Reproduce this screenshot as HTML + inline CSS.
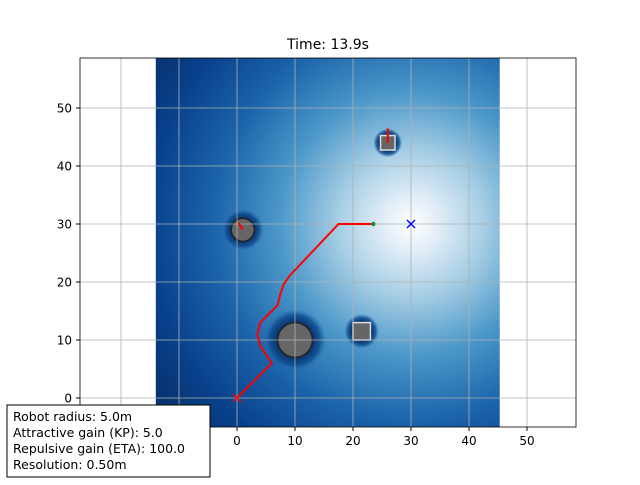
<!DOCTYPE html>
<html><head><meta charset="utf-8"><style>
body{margin:0;background:#fff;width:640px;height:480px;overflow:hidden;font-family:"Liberation Sans","DejaVu Sans",sans-serif}
svg text{font-family:"DejaVu Sans","Liberation Sans",sans-serif}
</style></head><body>
<svg id="c" width="640" height="480" xmlns="http://www.w3.org/2000/svg">
<defs>
<radialGradient id="field" gradientUnits="userSpaceOnUse" cx="411" cy="224" r="330">
<stop offset="0" stop-color="#ffffff"/>
<stop offset="0.08" stop-color="#e3eef8"/>
<stop offset="0.22" stop-color="#a6cee4"/>
<stop offset="0.4" stop-color="#4b97c9"/>
<stop offset="0.6" stop-color="#1b63aa"/>
<stop offset="0.8" stop-color="#08408a"/>
<stop offset="0.95" stop-color="#08306b"/>
</radialGradient>
<radialGradient id="halo"><stop offset="0.55" stop-color="#08306b"/><stop offset="0.8" stop-color="#0d4a8c" stop-opacity="0.8"/><stop offset="1" stop-color="#2171b5" stop-opacity="0"/></radialGradient>
<clipPath id="ax"><rect x="80" y="58" width="496" height="369"/></clipPath>
</defs>
<text x="328" y="49" font-size="14" text-anchor="middle">Time: 13.9s</text>
<g id="plot" clip-path="url(#ax)"></g>
<rect x="80" y="58" width="496" height="369" fill="none" stroke="#000" stroke-width="0.8"/>
<g id="ticks"></g>
<g>
<rect x="7" y="405" width="203" height="72" fill="#fff" stroke="#000" stroke-width="1"/>
<text x="13" y="421" font-size="12.5">Robot radius: 5.0m</text>
<text x="13" y="437" font-size="12.5">Attractive gain (KP): 5.0</text>
<text x="13" y="453" font-size="12.5">Repulsive gain (ETA): 100.0</text>
<text x="13" y="469" font-size="12.5">Resolution: 0.50m</text>
</g>
</svg>
<script>
const xTicks=[0,10,20,30,40,50];
const yTicks=[0,10,20,30,40,50];
const gridX=[-20,-10,0,10,20,30,40,50];
const pathX=[0,6,4,3.5,4,7,7.5,8,9,17.5,23.5];
const pathY=[0,6,9,11,13,16,18,19.5,21,30,30];
const circObsX=[1,10];const circObsY=[29,10];const circObsR=[2,3];
const sqObsX=[21.5,26];const sqObsY=[11.5,44];const sqObsS=[3,2.5];
const goal=[30,30];const start=[0,0];const robot=[23.5,30];
const fieldX=[-14,45.3];
const xMin=-27.07,xMax=58.45,yMin=-5.0,yMax=58.62;
const sx=v=>80+(v-xMin)/(xMax-xMin)*496;
const sy=v=>427-(v-yMin)/(yMax-yMin)*369;
const k=496/(xMax-xMin);
const NS="http://www.w3.org/2000/svg";
function mk(p,t,a){const e=document.createElementNS(NS,t);for(const q in a)e.setAttribute(q,a[q]);p.appendChild(e);return e;}
const P=document.getElementById('plot'),T=document.getElementById('ticks');
let f=mk(P,'rect',{x:sx(fieldX[0]),y:58,width:sx(fieldX[1])-sx(fieldX[0]),height:369,fill:'url(#field)'});


for(let i=0;i<circObsX.length;i++){
 let h=mk(P,'circle',{cx:sx(circObsX[i]),cy:sy(circObsY[i]),r:circObsR[i]*k*1.8,fill:'url(#halo)'});
 
 
 let c=mk(P,'circle',{cx:sx(circObsX[i]),cy:sy(circObsY[i]),r:circObsR[i]*k,fill:'#666',stroke:'#222',"stroke-width":1.5});
 
 
}
for(let i=0;i<sqObsX.length;i++){
 const s=sqObsS[i]*k;
 let h=mk(P,'circle',{cx:sx(sqObsX[i]),cy:sy(sqObsY[i]),r:s*1.0,fill:'url(#halo)'});
 
 
 let r=mk(P,'rect',{x:sx(sqObsX[i])-s/2,y:sy(sqObsY[i])-s/2,width:s,height:s,fill:'#666',stroke:'#ddd',"stroke-width":1.5});
 
 
}
for(const v of gridX){let l=mk(P,'line',{x1:sx(v),x2:sx(v),y1:58,y2:427,stroke:'#b0b0b0',"stroke-width":0.8});
 
 }
for(const v of yTicks){let l=mk(P,'line',{x1:80,x2:576,y1:sy(v),y2:sy(v),stroke:'#b0b0b0',"stroke-width":0.8});
 
 }
let pl=mk(P,'polyline',{points:pathX.map((x,i)=>sx(x)+','+sy(pathY[i])).join(' '),fill:'none',stroke:'#f00',"stroke-width":2});


let a1=mk(P,'line',{x1:sx(0.3),y1:sy(30.2),x2:sx(1),y2:sy(29),stroke:'#f00',"stroke-width":2});


let a2=mk(P,'line',{x1:sx(26),y1:sy(46.5),x2:sx(26),y2:sy(44),stroke:'#f00',"stroke-width":2});


function cross(x,y,col,name){const X=sx(x),Y=sy(y);let g=mk(P,'path',{d:`M${X-4},${Y-4}L${X+4},${Y+4}M${X-4},${Y+4}L${X+4},${Y-4}`,stroke:col,"stroke-width":1.4});
 
 }
cross(goal[0],goal[1],'#00f','goal-marker');
cross(start[0],start[1],'#f00','start-marker');
let rb=mk(P,'circle',{cx:sx(robot[0]),cy:sy(robot[1]),r:2.2,fill:'#2a8a2a'});


for(const v of xTicks){mk(T,'line',{x1:sx(v),x2:sx(v),y1:427,y2:431,stroke:'#000'});
 let t=mk(T,'text',{x:sx(v),y:445,"font-size":12,"text-anchor":"middle"});t.textContent=v;
 
 }
for(const v of yTicks){mk(T,'line',{x1:76,x2:80,y1:sy(v),y2:sy(v),stroke:'#000'});
 let t=mk(T,'text',{x:72,y:sy(v)+4.5,"font-size":12,"text-anchor":"end"});t.textContent=v;
 
 }
</script>
</body></html>
